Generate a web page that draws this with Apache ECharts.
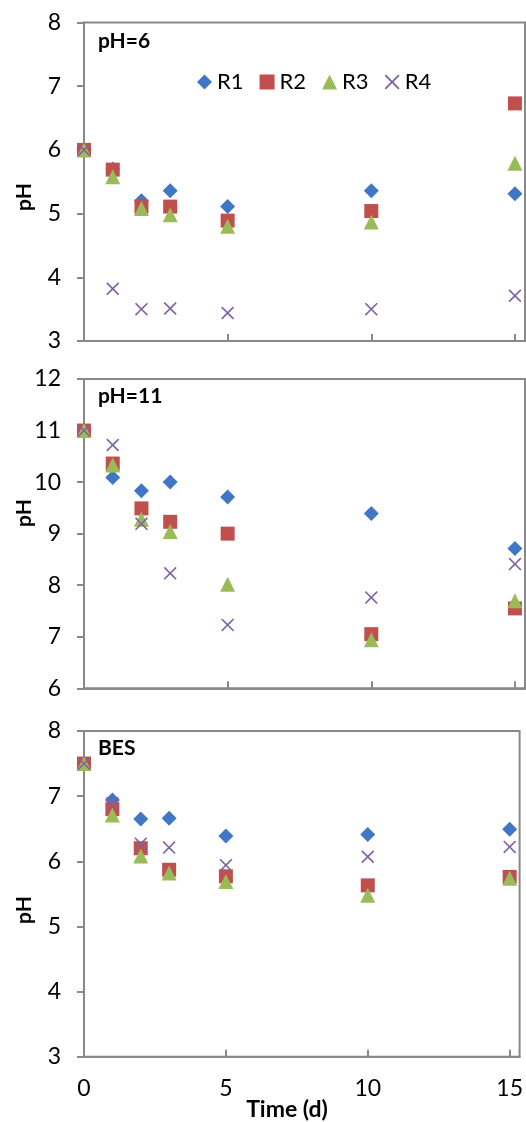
<!DOCTYPE html>
<html><head><meta charset="utf-8">
<script src="https://cdn.jsdelivr.net/npm/echarts@6/dist/echarts.min.js"></script>
<style>html,body{margin:0;padding:0;background:#fff}#c{width:526px;height:1122px}</style>
</head><body><div id="c"></div>
<script>
const days = [0, 1, 2, 3, 5, 10, 15];
const seriesNames = ['R1', 'R2', 'R3', 'R4'];
const panelTitles = ['pH=6', 'pH=11', 'BES'];
const xTicks = [0, 5, 10, 15];
const yRanges = [[3, 8], [6, 12], [3, 8]];

// pH=6
const ph6_R1 = [6.00, 5.70, 5.20, 5.36, 5.11, 5.36, 5.31];
const ph6_R2 = [6.00, 5.69, 5.11, 5.11, 4.89, 5.04, 6.73];
const ph6_R3 = [6.00, 5.58, 5.08, 4.98, 4.80, 4.87, 5.79];
const ph6_R4 = [6.00, 3.82, 3.50, 3.51, 3.44, 3.50, 3.71];
// pH=11
const ph11_R1 = [11.00, 10.09, 9.83, 10.00, 9.71, 9.39, 8.71];
const ph11_R2 = [11.00, 10.36, 9.49, 9.23, 9.00, 7.05, 7.55];
const ph11_R3 = [11.00, 10.33, 9.28, 9.04, 8.02, 6.94, 7.70];
const ph11_R4 = [11.00, 10.72, 9.19, 8.23, 7.23, 7.76, 8.41];
// BES
const bes_R1 = [7.50, 6.94, 6.65, 6.66, 6.39, 6.41, 6.49];
const bes_R2 = [7.50, 6.80, 6.20, 5.87, 5.77, 5.63, 5.76];
const bes_R3 = [7.50, 6.71, 6.08, 5.82, 5.69, 5.48, 5.74];
const bes_R4 = [7.50, 6.89, 6.27, 6.21, 5.94, 6.07, 6.22];

const panelData = [
  [ph6_R1, ph6_R2, ph6_R3, ph6_R4],
  [ph11_R1, ph11_R2, ph11_R3, ph11_R4],
  [bes_R1, bes_R2, bes_R3, bes_R4]
];

const colors = ['#4077C4', '#C0504D', '#9BBB59', '#8064A2'];
const xPath = 'path://M0,0.9 L0.9,0 L5,4.1 L9.1,0 L10,0.9 L5.9,5 L10,9.1 L9.1,10 L5,5.9 L0.9,10 L0,9.1 L4.1,5 Z';
const symbols = ['diamond', 'rect', 'triangle', xPath];
const sizes = [15, 14, 15, 13];

const FONT = 'Lato';
const gridPos = [
  {top: 22.5, height: 318.5},
  {top: 379, height: 309.3},
  {top: 731, height: 325.7}
];
const axisGray = '#898989';

const grids = [], xAxes = [], yAxes = [], series = [];
gridPos.forEach((g, i) => {
  grids.push({left: 84, width: 441, top: g.top, height: g.height, show: true,
    borderColor: axisGray, borderWidth: 2, backgroundColor: 'transparent'});
  xAxes.push({
    type: 'value', gridIndex: i, min: 0, max: 15.35, interval: 5,
    axisLine: {show: true, onZero: false, lineStyle: {color: axisGray, width: 2}},
    axisTick: {show: true, inside: true, length: 7, lineStyle: {color: axisGray, width: 2}},
    splitLine: {show: false},
    axisLabel: {show: i === 2, showMaxLabel: false, color: '#000', fontFamily: FONT, fontSize: 23, margin: 20,
      formatter: v => xTicks.includes(v) ? String(v) : ''}
  });
  yAxes.push({
    type: 'value', gridIndex: i, min: yRanges[i][0], max: yRanges[i][1], interval: 1,
    axisLine: {show: true, lineStyle: {color: axisGray, width: 2}},
    axisTick: {show: true, inside: false, length: 7, lineStyle: {color: axisGray, width: 2}},
    splitLine: {show: false},
    axisLabel: {color: '#000', fontFamily: FONT, fontSize: 23, margin: 23}
  });
  panelData[i].forEach((arr, k) => {
    series.push({
      type: 'scatter', name: seriesNames[k], xAxisIndex: i, yAxisIndex: i,
      symbol: symbols[k], symbolSize: sizes[k],
      itemStyle: {color: colors[k], opacity: 1},
      emphasis: {disabled: true},
      data: days.map((d, j) => [d, arr[j]]),
      z: 2 + k
    });
  });
});

const titleTops = [31, 386, 738];
const graphics = [];
panelTitles.forEach((t, i) => {
  graphics.push({type: 'text', left: 98, top: titleTops[i],
    style: {text: t, font: 'bold 21px ' + FONT, fill: '#000'}});
});
const yNameCenters = [197, 513, 910];
yNameCenters.forEach(c => {
  graphics.push({type: 'text', x: 24, y: c, rotation: Math.PI / 2,
    style: {text: 'pH', font: 'bold 21px ' + FONT, fill: '#000', align: 'center', verticalAlign: 'middle'}});
});
graphics.push({type: 'text', x: 287, y: 1110,
  style: {text: 'Time (d)', font: 'bold 23px ' + FONT, fill: '#000', align: 'center', verticalAlign: 'middle'}});

const chart = echarts.init(document.getElementById('c'), null, {renderer: 'canvas'});
chart.setOption({
  animation: false,
  color: colors,
  legend: {
    data: seriesNames, left: 192, top: 66, itemWidth: 15, itemHeight: 15, itemGap: 16,
    textStyle: {fontFamily: FONT, fontSize: 22, color: '#000'}
  },
  grid: grids, xAxis: xAxes, yAxis: yAxes, series: series, graphic: graphics
});
</script></body></html>
